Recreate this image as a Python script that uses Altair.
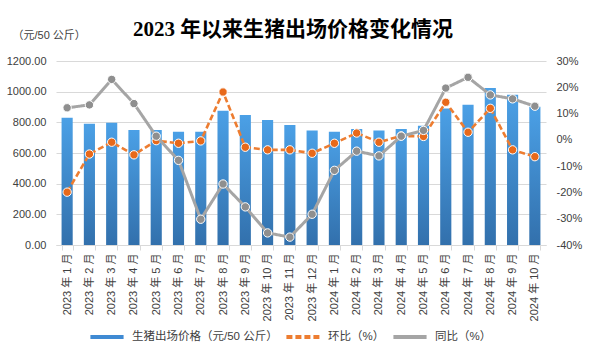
import altair as alt
import pandas as pd

months = [
    "2023 年 1 月", "2023 年 2 月", "2023 年 3 月", "2023 年 4 月", "2023 年 5 月",
    "2023 年 6 月", "2023 年 7 月", "2023 年 8 月", "2023 年 9 月", "2023 年 10 月",
    "2023 年 11 月", "2023 年 12 月", "2024 年 1 月", "2024 年 2 月", "2024 年 3 月",
    "2024 年 4 月", "2024 年 5 月", "2024 年 6 月", "2024 年 7 月", "2024 年 8 月",
    "2024 年 9 月", "2024 年 10 月",
]
price = [830, 791, 798, 750, 750, 739, 739, 876, 848, 815, 783, 746,
         739, 757, 746, 757, 778, 891, 915, 1024, 980, 902]
mom = [-19.9, -5.4, -0.9, -5.7, -0.3, -1.3, -0.4, 18.2, -2.8, -3.8, -3.8, -5.1,
       -1.3, 2.6, -0.9, 1.5, 1.3, 14.3, 2.9, 12.0, -3.8, -6.4]
yoy = [12.2, 13.3, 23.0, 13.8, 1.4, -7.8, -30.2, -16.8, -25.5, -35.4, -37.0, -28.3,
       -11.6, -4.3, -6.1, 1.4, 3.6, 19.7, 23.8, 17.1, 15.6, 12.8]

left_ticks = [0, 200, 400, 600, 800, 1000, 1200]
right_ticks = [-40, -30, -20, -10, 0, 10, 20, 30]

S_PRICE = "生猪出场价格（元/50 公斤）"
S_MOM = "环比（%）"
S_YOY = "同比（%）"
series_names = [S_PRICE, S_MOM, S_YOY]
series_colors = ["#3f8ad3", "#ed7d31", "#a5a5a5"]

bar_df = pd.DataFrame({"month": months, "price": price})
line_df = pd.concat([
    pd.DataFrame({"month": months, "series": S_MOM, "pct": mom}),
    pd.DataFrame({"month": months, "series": S_YOY, "pct": yoy}),
], ignore_index=True)

FONT = "Liberation Sans, Noto Sans CJK SC, sans-serif"

x = alt.X(
    "month:N", sort=months,
    scale=alt.Scale(type="band", paddingInner=0.5, paddingOuter=0.25),
    axis=alt.Axis(
        title=None, labelAngle=270, labelFontSize=11, labelColor="#404040",
        tickBand="extent", domainColor="#d9d9d9", tickColor="#d9d9d9",
        tickSize=5, labelPadding=3, labelFont=FONT,
    ),
)

y_left = alt.Y(
    "price:Q",
    scale=alt.Scale(domain=[0, 1200], nice=False),
    axis=alt.Axis(
        title="（元/50 公斤）", titleAngle=0, titleX=-44, titleY=-26,
        titleAlign="left", titleBaseline="middle", titleFontSize=11,
        titleFontWeight="normal", titleColor="#404040", titleFont=FONT,
        values=left_ticks, format=".2f", grid=True, gridColor="#d9d9d9",
        domain=False, ticks=False, labelPadding=10, labelFontSize=11,
        labelColor="#404040", labelFont=FONT,
    ),
)

y_right = alt.Y(
    "pct:Q",
    scale=alt.Scale(domain=[-40, 30], nice=False),
    axis=alt.Axis(
        orient="right", title=None, values=right_ticks,
        labelExpr="datum.value + '%'", grid=False, domain=False, ticks=False,
        labelPadding=10, labelFontSize=11, labelColor="#404040", labelFont=FONT,
    ),
)

legend = alt.Legend(
    title=None, orient="none", legendX=32, legendY=257, direction="horizontal",
    symbolType="stroke", symbolSize=1100, symbolStrokeWidth=4,
    labelFontSize=11.5, labelFont=FONT, labelColor="#404040",
    columnPadding=0, labelOffset=6,
)
color = alt.Color(
    "series:N",
    scale=alt.Scale(domain=series_names, range=series_colors),
    legend=legend,
)
dash = alt.StrokeDash(
    "series:N",
    scale=alt.Scale(domain=series_names, range=[[1, 0], [6, 3], [1, 0]]),
    legend=legend,
)

grad = alt.Gradient(
    gradient="linear",
    stops=[
        alt.GradientStop(color="#4ba0e6", offset=0),
        alt.GradientStop(color="#3270ac", offset=1),
    ],
    x1=0, x2=0, y1=0, y2=1,
)

bars = alt.Chart(bar_df).mark_bar(fill=grad).encode(x=x, y=y_left)

base = alt.Chart(line_df)
line_mom = base.transform_filter(alt.datum.series == S_MOM).mark_line(
    strokeWidth=2.6
).encode(x=x, y=y_right, color=color, strokeDash=dash)
pts_mom = base.transform_filter(alt.datum.series == S_MOM).mark_circle(
    size=70, opacity=1, fill="#e8691a", stroke="white", strokeWidth=1
).encode(x=x, y=y_right)
line_yoy = base.transform_filter(alt.datum.series == S_YOY).mark_line(
    strokeWidth=3
).encode(x=x, y=y_right, color=color, strokeDash=dash)
pts_yoy = base.transform_filter(alt.datum.series == S_YOY).mark_circle(
    size=70, opacity=1, fill="#8f8f8f", stroke="white", strokeWidth=1
).encode(x=x, y=y_right)

chart = alt.layer(
    bars,
    alt.layer(line_mom, pts_mom, line_yoy, pts_yoy),
).resolve_scale(
    y="independent"
).properties(
    width=490, height=184,
    padding={"left": 56, "top": 61, "right": 46, "bottom": 109},
    autosize=alt.AutoSizeParams(type="none"),
    background="white",
    title=alt.TitleParams(
        "2023 年以来生猪出场价格变化情况",
        font="Liberation Serif, Noto Sans CJK SC, serif",
        fontSize=21, fontWeight="bold", color="#000000",
        anchor="middle", frame="group", dx=-8, offset=0, dy=28,
        baseline="alphabetic",
    ),
).configure_view(stroke=None)

chart.save("out.html", embed_options={"renderer": "svg", "actions": False})
